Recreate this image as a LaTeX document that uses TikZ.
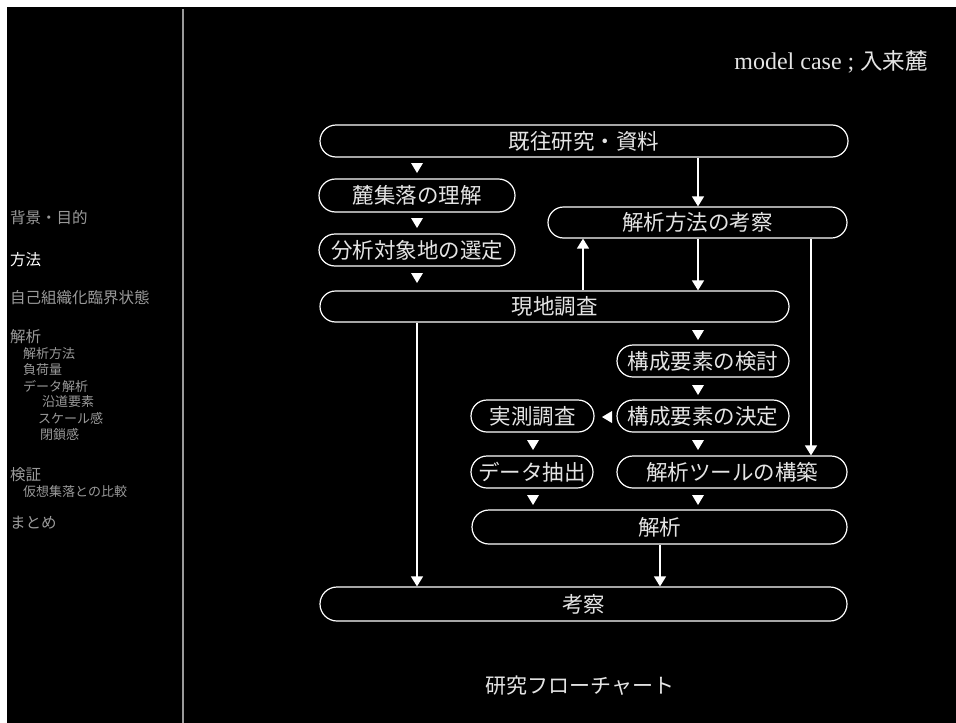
\documentclass[tikz,border=0pt]{standalone}
\usepackage{fontspec}
\setmainfont{Liberation Serif}
\newfontfamily\jp{Noto Sans CJK JP}
\usetikzlibrary{shapes.misc,arrows.meta}
\definecolor{sidegray}{HTML}{9A9A9A}
\definecolor{txtc}{HTML}{E4E4E4}
\newcommand\tdown[2]{\fill[white] (#1-6,#2-5) -- (#1+6,#2-5) -- (#1,#2+5) -- cycle;}
\begin{document}
\begin{tikzpicture}[x=1pt,y=-1pt,
  fbox/.style={draw=white,line width=1.2pt,rounded rectangle,inner sep=0pt,text=txtc,font=\jp\fontsize{21.5}{21.5}\selectfont},
  arr/.style={draw=white,line width=1.3pt,-{Triangle[width=12pt,length=10pt]}},
  sideitem/.style={anchor=west,inner sep=0pt,text=sidegray,font=\jp\fontsize{15.5}{15.5}\selectfont},
  subitem/.style={sideitem,font=\jp\fontsize{13}{13}\selectfont},
]
\useasboundingbox (0,0) rectangle (956,723);
\fill[white] (0,0) rectangle (956,723);
\fill[black] (7,7) rectangle (956,723);
\draw[sidegray,line width=1.2pt] (183,9) -- (183,723);

% sidebar
\node[sideitem] (s1) at (10,218) {背景・目的};
\node[sideitem,text=white] (s2) at (10,260) {方法};
\node[sideitem] (s3) at (10,298) {自己組織化臨界状態};
\node[sideitem] (s4) at (10,337) {解析};
\node[subitem] (s5) at (23,354) {解析方法};
\node[subitem] (s6) at (23,370) {負荷量};
\node[subitem] (s7) at (23,386) {データ解析};
\node[subitem] (s8) at (42,402) {沿道要素};
\node[subitem] (s9) at (38,418) {スケール感};
\node[subitem] (s10) at (40,435) {閉鎖感};
\node[sideitem] (s11) at (10,475) {検証};
\node[subitem] (s12) at (23,492) {仮想集落との比較};
\node[sideitem] (s13) at (10,523) {まとめ};

% title
\node[anchor=east,inner sep=0pt,text=txtc,font=\fontsize{24}{24}\selectfont] (title) at (928,62) {model case ; {\jp\fontsize{22.5}{22.5}\selectfont 入来麓}};

% boxes
\node[fbox,minimum width=528pt,minimum height=32pt] (A) at (584,141) {既往研究・資料};
\node[fbox,minimum width=196pt,minimum height=33pt] (B) at (417,195.5) {麓集落の理解};
\node[fbox,minimum width=196pt,minimum height=32pt] (C) at (417,250) {分析対象地の選定};
\node[fbox,minimum width=469pt,minimum height=31pt] (D) at (554.5,306.5) {現地調査};
\node[fbox,minimum width=299pt,minimum height=31pt] (E) at (697.5,222.5) {解析方法の考察};
\node[fbox,minimum width=172pt,minimum height=32pt] (F) at (703,361) {構成要素の検討};
\node[fbox,minimum width=172pt,minimum height=32pt] (G) at (703,416) {構成要素の決定};
\node[fbox,minimum width=123pt,minimum height=32pt] (I) at (532.5,416) {実測調査};
\node[fbox,minimum width=122pt,minimum height=32pt] (J) at (532,472) {データ抽出};
\node[fbox,minimum width=230pt,minimum height=32pt] (H) at (732,472) {解析ツールの構築};
\node[fbox,minimum width=375pt,minimum height=34pt] (K) at (659.5,527) {解析};
\node[fbox,minimum width=527pt,minimum height=34pt] (L) at (583.5,604) {考察};

% caption
\node[inner sep=0pt,text=txtc,font=\jp\fontsize{21}{21}\selectfont] (cap) at (580,686) {研究フローチャート};

% small triangles
\tdown{417}{168}
\tdown{417}{223}
\tdown{417}{278}
\tdown{698}{335}
\tdown{698}{390}
\tdown{533}{445}
\tdown{698}{445}
\tdown{533}{500}
\tdown{698}{500}
\fill[white] (612,411) -- (612,423) -- (602,417) -- cycle;

% connectors
\coordinate (x417) at (417,0);
\coordinate (x583) at (583,0);
\coordinate (x660) at (660,0);
\coordinate (x698) at (698,0);
\coordinate (x811) at (811,0);
\draw[arr] (A.south -| x698) -- (E.north -| x698);
\draw[arr] (E.south -| x698) -- (D.north -| x698);
\draw[arr] (D.north -| x583) -- (E.south -| x583);
\draw[arr] (E.south -| x811) -- (H.north -| x811);
\draw[arr] (D.south -| x417) -- (L.north -| x417);
\draw[arr] (K.south -| x660) -- (L.north -| x660);
\end{tikzpicture}
\end{document}
